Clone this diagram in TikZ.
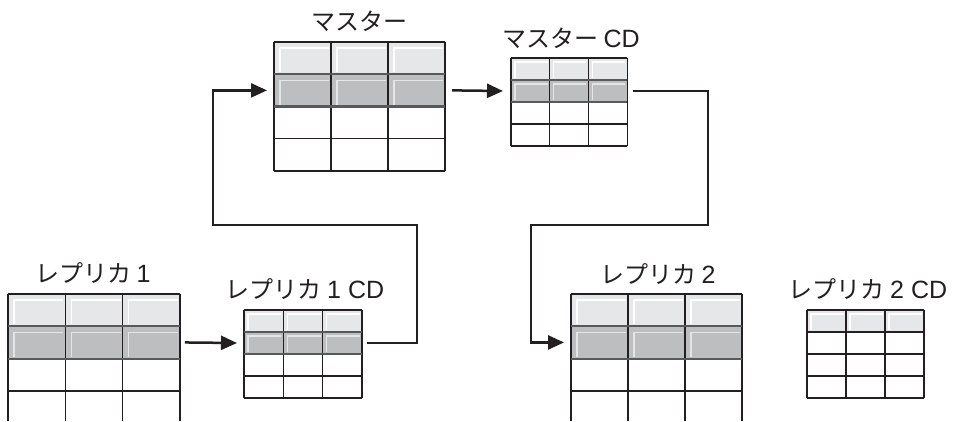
\documentclass[tikz,border=0pt]{standalone}
\usepackage{fontspec}
\setmainfont{Noto Sans CJK JP}
\newfontfamily\latin{Liberation Sans}
\usetikzlibrary{arrows.meta}
\definecolor{ink}{HTML}{231F20}
\definecolor{lightrow}{HTML}{E6E7E8}
\definecolor{darkrow}{HTML}{BCBEC0}
\definecolor{rowline}{HTML}{58595B}
\definecolor{hidark}{HTML}{E4E5E6}
\tikzset{
  hilite/.style={draw=white, line width=1.3pt},
  hilitedark/.style={draw=hidark, line width=1.3pt},
  gridv/.style={draw=ink, line width=1.2pt},
  gridh/.style={draw=ink, line width=1.2pt},
  rowsep/.style={draw=rowline, line width=2.2pt},
  tablebox/.style={draw=none, inner sep=0pt, outer sep=0pt},
  conn/.style={draw=ink, line width=2.5pt, line join=miter, -{Triangle[length=16pt,width=14pt]}},
  lbl/.style={font=\fontsize{24}{28}\selectfont, text=ink, inner sep=0pt, anchor=base},
}
\newcommand\lt[1]{{\latin\fontsize{25}{28}\selectfont #1}}
% #1 name, #2 x0, #3 y0, #4 column width, #5 row height, #6 shaded rows,
% #7 y where the lines end, #8 closed bottom (1/0), #9 highlight inset
\newcommand\dbtable[9]{%
  \pgfmathsetmacro\tW{3*#4}%
  \pgfmathsetmacro\tH{4*#5}%
  \fill[lightrow] (#2,#3) rectangle ++(\tW,#5);
  \ifnum#6>1 \fill[darkrow] (#2,{#3+#5}) rectangle ++(\tW,#5);\fi
  \foreach \c in {0,1,2}{%
    \draw[hilite] ({#2+\c*#4+#9},{#3+#5-2}) -- ({#2+\c*#4+#9},{#3+#9}) -- ({#2+(\c+1)*#4-2},{#3+#9});
  }
  \ifnum#6>1
  \foreach \c in {0,1,2}{%
    \draw[hilitedark] ({#2+\c*#4+#9},{#3+2*#5-2}) -- ({#2+\c*#4+#9},{#3+#5+#9}) -- ({#2+(\c+1)*#4-2},{#3+#5+#9});
  }
  \fi
  \foreach \c in {0,1,2,3}{\draw[gridv] ({#2+\c*#4},#3) -- ({#2+\c*#4},#7);}
  \foreach \r in {0,1,2,3}{\draw[gridh] (#2,{#3+\r*#5}) -- ++(\tW,0);}
  \ifnum#8=1 \draw[gridh] (#2,{#3+\tH}) -- ++(\tW,0);\fi
  \ifnum#6>1 \foreach \r in {1,2}{\draw[rowsep] (#2,{#3+\r*#5}) -- ++(\tW,0);}\fi
  \node[tablebox, minimum width=\tW pt, minimum height=\tH pt] (#1) at ({#2+\tW/2},{#3+\tH/2}) {};
  \node[tablebox, minimum width=\tW pt, minimum height=#5 pt] (#1-row) at ({#2+\tW/2},{#3+1.5*#5}) {};
}
\begin{document}
\begin{tikzpicture}[x=1pt,y=-1pt]
\useasboundingbox (0,0) rectangle (953,421);
\fill[white] (0,0) rectangle (953,421);

\dbtable{master}{274}{42}{57}{32.25}{2}{171}{1}{6}
\dbtable{mastercd}{511}{58}{38.7}{22}{2}{146}{1}{4}
\dbtable{rep1}{8}{294}{57.3}{32.3}{2}{421}{0}{6}
\dbtable{rep1cd}{244}{310}{39.3}{22}{2}{398}{1}{4}
\dbtable{rep2}{571}{294}{57}{32.3}{2}{421}{0}{6}
\dbtable{rep2cd}{807}{310}{39}{22}{1}{398}{1}{4}

\node[lbl] (lmaster) at (359,30) {マスター};
\node[lbl] (lmastercd) at (571,47) {マスター \lt{CD}};
\node[lbl] (lrep1) at (93,282) {レプリカ \lt{1}};
\node[lbl] (lrep1cd) at (305,298) {レプリカ \lt{1 CD}};
\node[lbl] (lrep2) at (658,283) {レプリカ \lt{2}};
\node[lbl] (lrep2cd) at (868,298) {レプリカ \lt{2 CD}};

\coordinate (c1) at (417,225);
\coordinate (c2) at (213,225);
\coordinate (c3) at (708,225);
\coordinate (c4) at (531,225);

\draw[conn] ([xshift=5pt]rep1-row.east) -- ([xshift=-7pt]rep1cd-row.west);
\draw[conn] ([xshift=5pt]rep1cd-row.east) -| (c1) -- (c2) |- ([xshift=-7pt]master-row.west);
\draw[conn] ([xshift=7pt]master-row.east) -- ([xshift=-8pt]mastercd-row.west);
\draw[conn] ([xshift=6pt]mastercd-row.east) -| (c3) -- (c4) |- ([xshift=-7pt]rep2-row.west);
\end{tikzpicture}
\end{document}
